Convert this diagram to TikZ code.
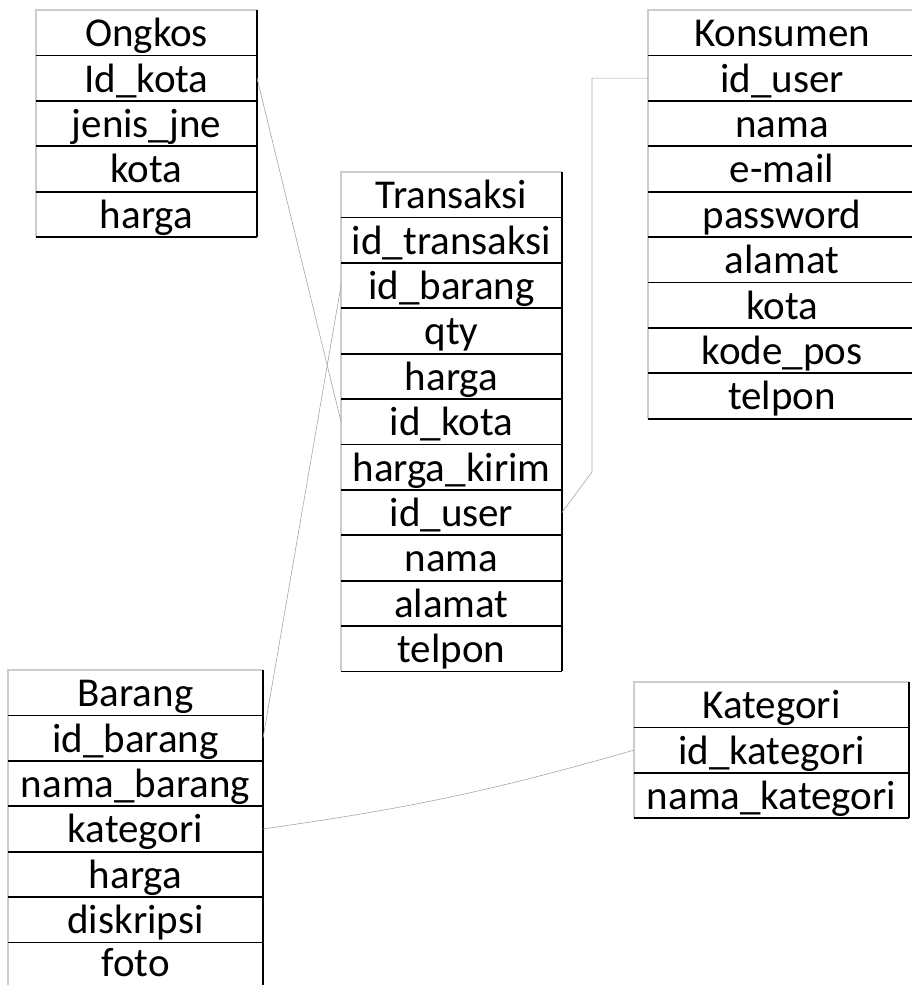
\documentclass[tikz,border=0pt]{standalone}
\usepackage{fontspec}
\setmainfont{Carlito}
\usetikzlibrary{positioning}
\tikzset{
  field/.style={minimum height=45.4pt, inner sep=0pt, outer sep=0pt,
    text height=31pt, text depth=3pt, font=\fontsize{41}{49}\selectfont},
  frame/.style={draw=gray!40, line width=1.2pt},
  rule/.style={draw=black, line width=1.8pt},
  side/.style={draw=black, line width=2.8pt},
  link/.style={draw=gray!70, line width=0.6pt}
}
\begin{document}
\begin{tikzpicture}[x=1pt, y=-1pt]
\useasboundingbox (0,0) rectangle (912,985);
% Ongkos
\foreach \f [count=\i from 0] in {Ongkos, Id\_kota, jenis\_jne, kota, harga}
  \node[field, minimum width=221pt] (O_\i) at (146.5, 32.7+45.4*\i) {\f};
% Transaksi
\foreach \f [count=\i from 0] in {Transaksi, id\_transaksi, id\_barang, qty, harga, id\_kota, harga\_kirim, id\_user, nama, alamat, telpon}
  \node[field, minimum width=221pt] (T_\i) at (451.5, 194.7+45.4*\i) {\f};
% Konsumen
\foreach \f [count=\i from 0] in {Konsumen, id\_user, nama, e-mail, password, alamat, kota, kode\_pos, telpon}
  \node[field, minimum width=268pt] (K_\i) at (782, 32.7+45.4*\i) {\f};
% Barang
\foreach \f [count=\i from 0] in {Barang, id\_barang, nama\_barang, kategori, harga, diskripsi}
  \node[field, minimum width=255pt] (B_\i) at (135.5, 692.7+45.4*\i) {\f};
\node[field, minimum width=255pt, minimum height=43pt, text height=29pt] (B_6) at (135.5, 963.5) {foto};
% Kategori
\foreach \f [count=\i from 0] in {Kategori, id\_kategori, nama\_kategori}
  \node[field, minimum width=275pt] (G_\i) at (771.5, 704.7+45.4*\i) {\f};

% borders
\draw[frame] (O_4.south west) |- (O_0.north east);
\draw[frame] (T_10.south west) |- (T_0.north east);
\draw[frame] (K_8.south west) |- (K_0.north east);
\draw[frame] (B_6.south west) |- (B_0.north east);
\draw[frame] (G_2.south west) |- (G_0.north east);
\foreach \i in {0,...,4} \draw[rule] (O_\i.south west) -- (O_\i.south east);
\foreach \i in {0,...,10} \draw[rule] (T_\i.south west) -- (T_\i.south east);
\foreach \i in {0,...,8} \draw[rule] (K_\i.south west) -- (K_\i.south east);
\foreach \i in {0,...,5} \draw[rule] (B_\i.south west) -- (B_\i.south east);
\foreach \i in {0,...,2} \draw[rule] (G_\i.south west) -- (G_\i.south east);
\draw[side] (O_0.north east) -- (O_4.south east);
\draw[side] (T_0.north east) -- (T_10.south east);
\draw[side] (K_0.north east) -- (K_8.south east);
\draw[side] (B_0.north east) -- (B_6.south east);
\draw[side] (G_0.north east) -- (G_2.south east);

% relations
\coordinate (knee) at (592,472);
\draw[link] (O_1.east) -- (T_5.west);
\draw[link] (T_2.west) -- (B_1.east);
\draw[link] (T_7.east) -- (knee) |- (K_1.west);
\draw[link] (B_3.east) to[bend right=4] (G_1.west);
\end{tikzpicture}
\end{document}
